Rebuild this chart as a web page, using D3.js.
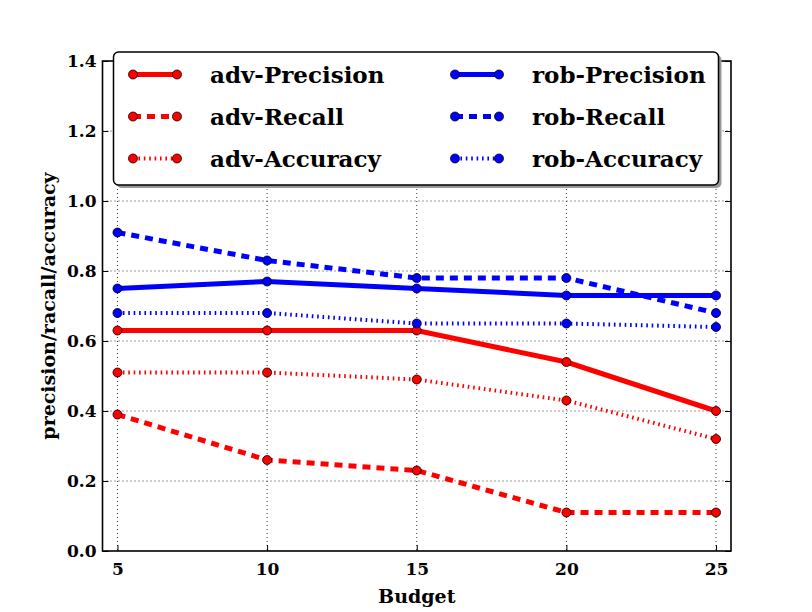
<!DOCTYPE html>
<html>
<head>
<meta charset="utf-8">
<script src="https://cdn.jsdelivr.net/npm/d3@7"></script>
<style>
  body { margin: 0; background: #fff; }
  text { font-family: "DejaVu Serif", serif; font-weight: bold; }
</style>
</head>
<body>
<div id="chart"></div>
<script>
'use strict';

// budgets on the x axis
const budgets = [5, 10, 15, 20, 25];

// values
const advPrecision = [0.63, 0.63, 0.63, 0.54, 0.40];
const advRecall    = [0.39, 0.26, 0.23, 0.11, 0.11];
const advAccuracy  = [0.51, 0.51, 0.49, 0.43, 0.32];
const robPrecision = [0.75, 0.77, 0.75, 0.73, 0.73];
const robRecall    = [0.91, 0.83, 0.78, 0.78, 0.68];
const robAccuracy  = [0.68, 0.68, 0.65, 0.65, 0.64];

const yTicks = [0.0, 0.2, 0.4, 0.6, 0.8, 1.0, 1.2, 1.4];

const series = [
  { name: 'adv-Precision', values: advPrecision, color: '#ff0000', style: 'solid' },
  { name: 'adv-Recall',    values: advRecall,    color: '#ff0000', style: 'dashed' },
  { name: 'adv-Accuracy',  values: advAccuracy,  color: '#ff0000', style: 'dotted' },
  { name: 'rob-Precision', values: robPrecision, color: '#0000ff', style: 'solid' },
  { name: 'rob-Recall',    values: robRecall,    color: '#0000ff', style: 'dashed' },
  { name: 'rob-Accuracy',  values: robAccuracy,  color: '#0000ff', style: 'dotted' }
];

const lineStyles = {
  solid:  { width: 5, dash: null },
  dashed: { width: 5, dash: '8,6' },
  dotted: { width: 4, dash: '1.6,3.8' }
};

const W = 812, H = 612;
const box = { left: 102.5, right: 731, top: 61, bottom: 551 };

const svg = d3.select('#chart').append('svg')
    .attr('width', W)
    .attr('height', H);

const x = d3.scaleLinear().domain([4.5, 25.5]).range([box.left, box.right]);
const y = d3.scaleLinear().domain([0, 1.4]).range([box.bottom, box.top]);

// grid
const grid = svg.append('g').attr('class', 'grid')
    .attr('stroke', '#000')
    .attr('stroke-width', 0.8)
    .attr('stroke-dasharray', '1,3');

grid.selectAll('.gx')
    .data(budgets)
  .enter().append('line')
    .attr('x1', d => x(d)).attr('x2', d => x(d))
    .attr('y1', box.top).attr('y2', box.bottom);

grid.selectAll('.gy')
    .data(yTicks.slice(1, -1))
  .enter().append('line')
    .attr('y1', d => y(d)).attr('y2', d => y(d))
    .attr('x1', box.left).attr('x2', box.right);

// axes with inward ticks
const tickLen = 6;
const xAxis = d3.axisBottom(x).tickValues(budgets).tickSize(-tickLen).tickPadding(12).tickFormat(d3.format('d'));
const yAxis = d3.axisLeft(y).tickValues(yTicks).tickSize(-tickLen).tickPadding(6).tickFormat(d3.format('.1f'));

const gx = svg.append('g')
    .attr('transform', `translate(0, ${box.bottom})`)
    .call(xAxis);
const gy = svg.append('g')
    .attr('transform', `translate(${box.left}, 0)`)
    .call(yAxis);

svg.append('g')
    .attr('transform', `translate(0, ${box.top})`)
    .call(d3.axisTop(x).tickValues(budgets).tickSize(-tickLen).tickFormat(''));
svg.append('g')
    .attr('transform', `translate(${box.right}, 0)`)
    .call(d3.axisRight(y).tickValues(yTicks).tickSize(-tickLen).tickFormat(''));

svg.selectAll('.domain').remove();
svg.selectAll('.tick line').attr('stroke', '#000').attr('stroke-width', 1);
gx.selectAll('.tick text').attr('font-size', 17).attr('fill', '#000');
gy.selectAll('.tick text').attr('font-size', 17).attr('fill', '#000');

// frame
svg.append('rect')
    .attr('x', box.left).attr('y', box.top)
    .attr('width', box.right - box.left).attr('height', box.bottom - box.top)
    .attr('fill', 'none')
    .attr('stroke', '#000')
    .attr('stroke-width', 1.6);

// lines
const line = d3.line()
    .x((d, i) => x(budgets[i]))
    .y(d => y(d));

const lines = svg.append('g').attr('class', 'series');

series.forEach(s => {
  const st = lineStyles[s.style];
  lines.append('path')
      .datum(s.values)
      .attr('fill', 'none')
      .attr('stroke', s.color)
      .attr('stroke-width', st.width)
      .attr('stroke-dasharray', st.dash)
      .attr('d', line);

  lines.selectAll(null)
      .data(s.values)
    .enter().append('circle')
      .attr('cx', (d, i) => x(budgets[i]))
      .attr('cy', d => y(d))
      .attr('r', 4.5)
      .attr('fill', s.color)
      .attr('stroke', '#000')
      .attr('stroke-width', 0.8);
});

// legend
const lg = svg.append('g').attr('class', 'legend');
const lx = 113.5, ly = 52, lw = 605, lh = 133;

lg.append('rect')
    .attr('x', lx + 3).attr('y', ly + 3)
    .attr('width', lw).attr('height', lh)
    .attr('rx', 5)
    .attr('fill', '#999');
lg.append('rect')
    .attr('x', lx).attr('y', ly)
    .attr('width', lw).attr('height', lh)
    .attr('rx', 5)
    .attr('fill', '#fff')
    .attr('stroke', '#000')
    .attr('stroke-width', 1.5);

const colX = [133, 455];
const rowY = [74.5, 116.5, 158.5];

series.forEach((s, i) => {
  const col = Math.floor(i / 3), row = i % 3;
  const x0 = colX[col], x1 = x0 + 44, yy = rowY[row];
  const st = lineStyles[s.style];
  lg.append('line')
      .attr('x1', x0).attr('x2', x1)
      .attr('y1', yy).attr('y2', yy)
      .attr('stroke', s.color)
      .attr('stroke-width', st.width)
      .attr('stroke-dasharray', st.dash);
  [x0, x1].forEach(cx => {
    lg.append('circle')
        .attr('cx', cx).attr('cy', yy)
        .attr('r', 4.5)
        .attr('fill', s.color)
        .attr('stroke', '#000')
        .attr('stroke-width', 0.8);
  });
  lg.append('text')
      .attr('x', x0 + 77)
      .attr('y', yy + 8.5)
      .attr('font-size', 23)
      .attr('fill', '#000')
      .text(s.name);
});

// axis titles
svg.append('text')
    .attr('x', x(15))
    .attr('y', 603)
    .attr('text-anchor', 'middle')
    .attr('font-size', 19)
    .text('Budget');

svg.append('text')
    .attr('transform', `translate(55, ${(box.top + box.bottom) / 2}) rotate(-90)`)
    .attr('text-anchor', 'middle')
    .attr('font-size', 19)
    .text('precision/racall/accuracy');
</script>
</body>
</html>
